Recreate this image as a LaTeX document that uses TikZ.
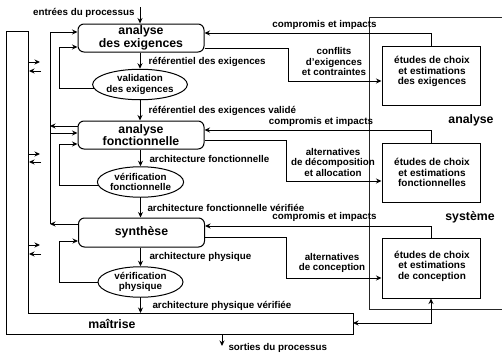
\documentclass[tikz,border=0pt]{standalone}
\usepackage{fontspec}
\setmainfont{Liberation Sans}
\usetikzlibrary{shapes.geometric,arrows.meta,calc}

\begin{document}
\begin{tikzpicture}[x=1pt,y=-1pt,line width=1pt,
  arr/.style={-{Stealth[length=5.5pt,width=5pt]}},
  arrboth/.style={{Stealth[length=5.5pt,width=5pt]}-{Stealth[length=5.5pt,width=5pt]}},
  smallfont/.style={font=\fontsize{9.8}{10.5}\selectfont\bfseries},
  bigfont/.style={font=\fontsize{12.3}{12.8}\selectfont\bfseries},
  procbox/.style={draw,rounded corners=6pt,minimum width=126pt,minimum height=28pt,
    inner sep=0pt,align=center,bigfont},
  checkell/.style={draw,ellipse,minimum width=85pt,minimum height=30.5pt,
    inner sep=0pt,align=center,smallfont},
  studybox/.style={draw,minimum width=98pt,minimum height=59pt,inner sep=0pt},
  studytext/.style={align=center,inner sep=0pt,font=\fontsize{10}{10.4}\selectfont\bfseries},
  lbl/.style={inner sep=0pt,smallfont},
  clbl/.style={inner sep=0pt,align=center,smallfont}]
\useasboundingbox (0,0) rectangle (502,359);

% system frame on the right
\draw[line width=0.9pt,black!85] (504,17) -- (369,17) -- (369,309) -- (504,309);
\node[inner sep=0pt,bigfont] (lanalyse) at (471,120) {analyse};
\node[inner sep=0pt,bigfont] (lsysteme) at (470,217) {système};

% control frame (maîtrise)
\draw (6,31) -- (28,31) -- (28,313) -- (353,313) -- (353,334) -- (6,334) -- cycle;
\node[inner sep=0pt,bigfont] (maitrise) at (112,324) {maîtrise};
\coordinate (mright) at (353,323);
\coordinate (mbar) at (28,0);
\coordinate (mbottom) at (222,334);

% process steps
\node[procbox] (b1) at (141,38) {analyse\\des exigences};
\node[checkell] (e1) at (140,84.5) {validation\\des exigences};
\node[procbox] (b2) at (141,135) {analyse\\fonctionnelle};
\node[checkell] (e2) at (140.5,182) {vérification\\fonctionnelle};
\node[procbox,minimum height=29pt] (b3) at (141.5,232.5) {synthèse};
\node[checkell] (e3) at (140.5,282) {vérification\\physique};

% trade-off studies
\node[studybox] (s1) at (431,75.5) {};
\node[studytext] at ($(s1.center)+(1,-4)$) {études de choix\\et estimations\\des exigences};
\node[studybox] (s2) at (431,172.5) {};
\node[studytext] at ($(s2.center)+(1,0)$) {études de choix\\et estimations\\fonctionnelles};
\node[studybox,minimum height=60pt] (s3) at (431,268) {};
\node[studytext] at ($(s3.center)+(1,-2)$) {études de choix\\et estimations\\de conception};

% process input and output
\coordinate (intop) at (140,7);
\node[lbl,anchor=east] (lin) at (135,13) {entrées du processus};
\draw[arr] (intop) -- (intop |- b1.north);
\draw[arr] (mbottom) -- ++(0,12);
\node[lbl,anchor=west] (lout) at (228,348) {sorties du processus};

% main flow
\draw[arr] (e1.north |- b1.south) -- (e1.north);
\node[lbl,anchor=west] at (148,62) {référentiel des exigences};
\draw[arr] (e1.south) -- (e1.south |- b2.north);
\node[lbl,anchor=west] at (148,111) {référentiel des exigences validé};
\draw[arr] (e2.north |- b2.south) -- (e2.north);
\node[lbl,anchor=west] at (149,159) {architecture fonctionnelle};
\draw[arr] (e2.south) -- (e2.south |- b3.north);
\node[lbl,anchor=west] at (147,208) {architecture fonctionnelle vérifiée};
\draw[arr] (e3.north |- b3.south) -- (e3.north);
\node[lbl,anchor=west] at (149,257) {architecture physique};
\draw[arr] (e3.south) -- (e3.south |- 0,313);
\node[lbl,anchor=west] at (152,306) {architecture physique vérifiée};

% verification loops
\draw[arr] (e1.185) -| (59,47) -- ($(b1.west)+(0,9)$);
\draw[arr] (e2.185) -| (59,144) -- ($(b2.west)+(0,9)$);
\draw[arr] (e3.west) -| (59,241) -- ($(b3.west)+(0,8.5)$);

% feedback bus
\coordinate (bustop) at (50,32);
\coordinate (busbot) at (50,224);
\draw (bustop) -- (busbot);
\draw[arr] (bustop) -- (bustop -| b1.west);
\draw[arr] ($(b2.west)+(0,-9)$) -- (50,126);
\draw[arr] (50,133) -- ($(b2.west)+(0,-2)$);
\draw[arr] ($(b3.west)+(0,-8.5)$) -- (busbot);

% exchanges with the control frame
\foreach \ya/\yb in {62/71,154/162,245/254}{
  \draw[arr] ($(mbar)+(0,\ya)$) -- ++(12,0);
  \draw[arr] ($(mbar)+(13,\yb)$) -- ++(-12,0);
}

% trade-off exchanges
\draw[arr] (s1.north) |- ($(b1.east)+(0,-5)$);
\node[lbl] at (324.5,25) {compromis et impacts};
\draw[arr] ($(b1.east)+(0,10)$) -- ++(84,0) |- ($(s1.west)+(0,5.5)$);
\node[clbl] at (334,61.5) {conflits\\d’exigences\\et contraintes};

\draw[arr] (s2.north) |- ($(b2.east)+(0,-5)$);
\node[lbl] at (321,122) {compromis et impacts};
\draw[arr] ($(b2.east)+(0,5.5)$) -- ++(82,0) |- ($(s2.west)+(0,8.5)$);
\node[clbl] at (333,162) {alternatives\\de décomposition\\et allocation};

\draw[arr] (s3.north) |- ($(b3.east)+(0,-6.5)$);
\node[lbl] at (324.5,217) {compromis et impacts};
\draw[arr] ($(b3.east)+(0,4.5)$) -- ++(81,0) |- ($(s3.west)+(0,10)$);
\node[clbl] at (332,263) {alternatives\\de conception};

\draw[arrboth] (mright) -| (s3.south);
\end{tikzpicture}
\end{document}
